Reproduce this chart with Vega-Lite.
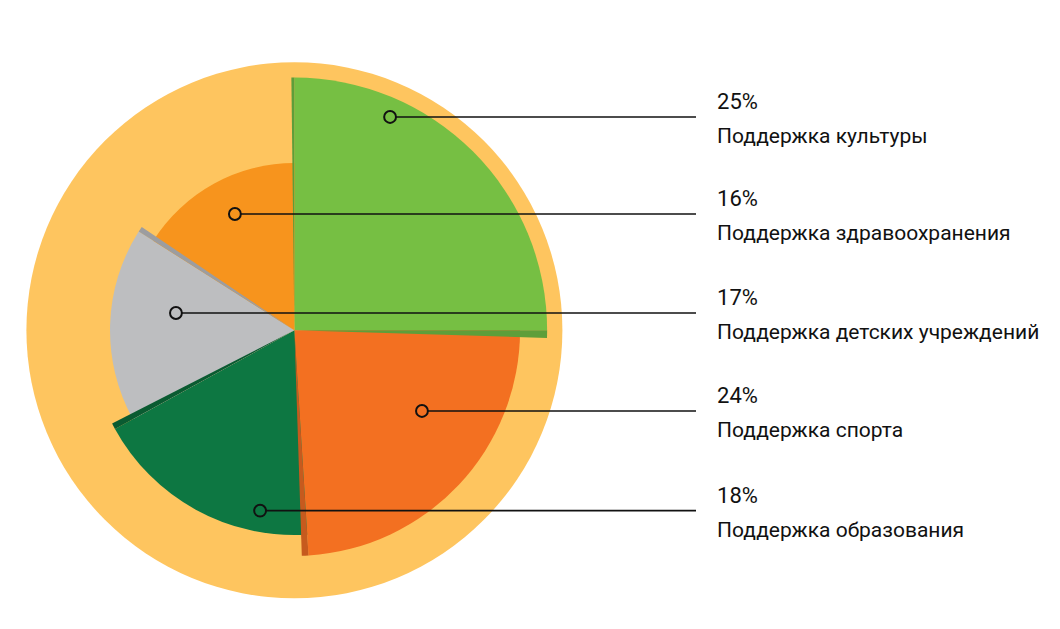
{
  "$schema": "https://vega.github.io/schema/vega-lite/v6.json",
  "width": 1060,
  "height": 629,
  "padding": 0,
  "autosize": {"type": "none"},
  "background": "white",
  "config": {"view": {"stroke": null}},
  "datasets": {
    "slices": [
      {"category": "Поддержка культуры", "share": 0.25, "o": 1, "r": 0.943, "ax": 0.357, "ay": 0.796},
      {"category": "Поддержка спорта", "share": 0.24, "o": 2, "r": 0.842, "ax": 0.476, "ay": -0.301},
      {"category": "Поддержка образования", "share": 0.18, "o": 3, "r": 0.764, "ax": -0.128, "ay": -0.673},
      {"category": "Поддержка детских учреждений", "share": 0.17, "o": 4, "r": 0.688, "ax": -0.442, "ay": 0.0646},
      {"category": "Поддержка здравоохранения", "share": 0.16, "o": 5, "r": 0.624, "ax": -0.222, "ay": 0.434}
    ]
  },
  "resolve": {"scale": {"color": "independent"}},
  "layer": [
    {
      "data": {"values": [{"r": 1}]},
      "mark": {"type": "arc", "theta": 0, "theta2": 6.2832, "color": "#FEC55F"},
      "encoding": {
        "x": {"datum": 0, "type": "quantitative", "scale": {"domain": [-1.0985, 2.8567], "nice": false, "zero": false}, "axis": null},
        "y": {"datum": 0, "type": "quantitative", "scale": {"domain": [-1.1146, 1.2325], "nice": false, "zero": false}, "axis": null},
        "radius": {"field": "r", "type": "quantitative", "scale": {"type": "linear", "domain": [0, 1], "range": [0, 268], "zero": true}}
      }
    },
    {
      "data": {"name": "slices"},
      "transform": [
        {"stack": "share", "groupby": [], "sort": [{"field": "o", "order": "ascending"}], "as": ["s0", "s1"]}
      ],
      "mark": {"type": "arc", "stroke": null},
      "encoding": {
        "x": {"datum": 0, "type": "quantitative", "scale": {"domain": [-1.0985, 2.8567], "nice": false, "zero": false}, "axis": null},
        "y": {"datum": 0, "type": "quantitative", "scale": {"domain": [-1.1146, 1.2325], "nice": false, "zero": false}, "axis": null},
        "theta": {"field": "s0", "type": "quantitative", "scale": {"domain": [0, 1], "range": [0, 6.283185]}, "stack": null},
        "theta2": {"field": "s1"},
        "radius": {"field": "r", "type": "quantitative", "scale": {"type": "linear", "domain": [0, 1], "range": [0, 268], "zero": true}},
        "color": {
          "field": "category",
          "type": "nominal",
          "scale": {
            "domain": ["Поддержка культуры", "Поддержка спорта", "Поддержка образования", "Поддержка детских учреждений", "Поддержка здравоохранения"],
            "range": ["#76BF43", "#F37021", "#0D7742", "#BDBEC0", "#F7941D"]
          },
          "legend": null
        }
      }
    },
    {
      "data": {"name": "slices"},
      "transform": [
        {"stack": "share", "groupby": [], "sort": [{"field": "o", "order": "ascending"}], "as": ["s0", "s1"]},
        {"filter": "datum.o < 5"}
      ],
      "mark": {"type": "arc", "stroke": null, "theta2Offset": 0.03},
      "encoding": {
        "x": {"datum": 0, "type": "quantitative", "scale": {"domain": [-1.0985, 2.8567], "nice": false, "zero": false}, "axis": null},
        "y": {"datum": 0, "type": "quantitative", "scale": {"domain": [-1.1146, 1.2325], "nice": false, "zero": false}, "axis": null},
        "theta": {"field": "s1", "type": "quantitative", "scale": {"domain": [0, 1], "range": [0, 6.283185]}, "stack": null},
        "theta2": {"field": "s1"},
        "radius": {"field": "r", "type": "quantitative", "scale": {"type": "linear", "domain": [0, 1], "range": [0, 268], "zero": true}},
        "color": {
          "field": "category",
          "type": "nominal",
          "scale": {
            "domain": ["Поддержка культуры", "Поддержка спорта", "Поддержка образования", "Поддержка детских учреждений", "Поддержка здравоохранения"],
            "range": ["#5E9E3A", "#C65A1E", "#0A5B31", "#9C9DA0", "#D27A17"]
          },
          "legend": null
        }
      }
    },
    {
      "data": {"name": "slices"},
      "transform": [
        {"stack": "share", "groupby": [], "sort": [{"field": "o", "order": "ascending"}], "as": ["s0", "s1"]},
        {"filter": "datum.o == 1"}
      ],
      "mark": {"type": "arc", "stroke": null, "thetaOffset": -0.012, "color": "#5E9E3A"},
      "encoding": {
        "x": {"datum": 0, "type": "quantitative", "scale": {"domain": [-1.0985, 2.8567], "nice": false, "zero": false}, "axis": null},
        "y": {"datum": 0, "type": "quantitative", "scale": {"domain": [-1.1146, 1.2325], "nice": false, "zero": false}, "axis": null},
        "theta": {"field": "s0", "type": "quantitative", "scale": {"domain": [0, 1], "range": [0, 6.283185]}, "stack": null},
        "theta2": {"field": "s0"},
        "radius": {"field": "r", "type": "quantitative", "scale": {"type": "linear", "domain": [0, 1], "range": [0, 268], "zero": true}}
      }
    },
    {
      "data": {"name": "slices"},
      "mark": {"type": "rule", "color": "#111111", "strokeWidth": 1.6, "xOffset": 6},
      "encoding": {
        "x": {"field": "ax", "type": "quantitative", "scale": {"domain": [-1.0985, 2.8567], "nice": false, "zero": false}, "axis": null},
        "x2": {"datum": 1.4985},
        "y": {"field": "ay", "type": "quantitative", "scale": {"domain": [-1.1146, 1.2325], "nice": false, "zero": false}, "axis": null}
      }
    },
    {
      "data": {"name": "slices"},
      "mark": {"type": "point", "filled": false, "shape": "circle", "size": 140, "stroke": "#111111", "strokeWidth": 2, "opacity": 1},
      "encoding": {
        "x": {"field": "ax", "type": "quantitative", "scale": {"domain": [-1.0985, 2.8567], "nice": false, "zero": false}, "axis": null},
        "y": {"field": "ay", "type": "quantitative", "scale": {"domain": [-1.1146, 1.2325], "nice": false, "zero": false}, "axis": null}
      }
    },
    {
      "data": {"name": "slices"},
      "mark": {"type": "text", "align": "left", "baseline": "alphabetic", "dy": -8, "fontSize": 22, "font": "Roboto", "color": "#111111"},
      "encoding": {
        "x": {"datum": 1.577, "type": "quantitative", "scale": {"domain": [-1.0985, 2.8567], "nice": false, "zero": false}, "axis": null},
        "y": {"field": "ay", "type": "quantitative", "scale": {"domain": [-1.1146, 1.2325], "nice": false, "zero": false}, "axis": null},
        "text": {"field": "share", "type": "quantitative", "format": ".0%"}
      }
    },
    {
      "data": {"name": "slices"},
      "mark": {"type": "text", "align": "left", "baseline": "alphabetic", "dy": 26, "fontSize": 21, "font": "Roboto", "color": "#111111"},
      "encoding": {
        "x": {"datum": 1.577, "type": "quantitative", "scale": {"domain": [-1.0985, 2.8567], "nice": false, "zero": false}, "axis": null},
        "y": {"field": "ay", "type": "quantitative", "scale": {"domain": [-1.1146, 1.2325], "nice": false, "zero": false}, "axis": null},
        "text": {"field": "category", "type": "nominal"}
      }
    }
  ]
}
